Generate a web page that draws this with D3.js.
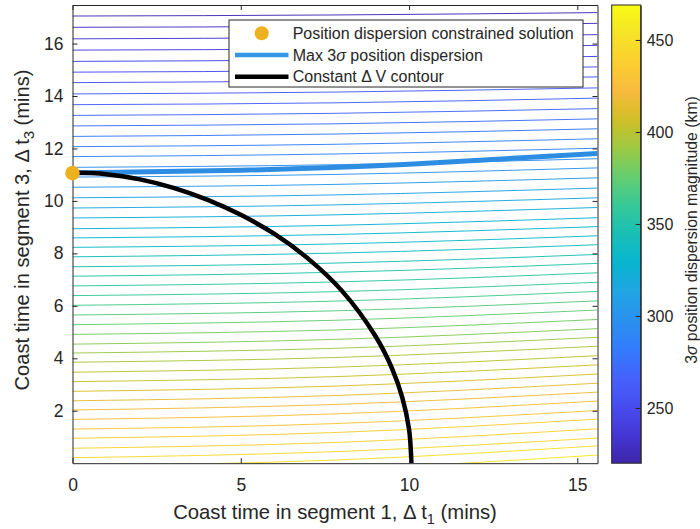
<!DOCTYPE html>
<html>
<head>
<meta charset="utf-8">
<script src="https://cdn.jsdelivr.net/npm/d3@7"></script>
<style>
  body { margin: 0; background: #fff; }
  text { font-family: "Liberation Sans", Arial, Helvetica, sans-serif; fill: #262626; }
</style>
</head>
<body>
<div id="chart"></div>
<script>
// contour levels of the 3-sigma dispersion (km)
var levels = [225,230,235,240,245,250,255,260,265,270,275,280,285,290,295,300,305,310,315,320,
  325,330,335,340,345,350,355,360,365,370,375,380,385,390,395,400,405,410,415,420,
  425,430,435,440,445,450,455];
// where each contour sits (t3, mins) at t1 = 0, 7.8 and 15.6 mins
var contourT1 = [0, 7.8, 15.6];
var t3AtStart = [17.05,16.62,16.18,15.75,15.32,14.91,14.51,14.08,13.67,13.26,12.86,12.46,12.07,11.69,11.28,10.91,
  10.52,10.12,9.73,9.35,8.94,8.59,8.23,7.87,7.49,7.13,6.76,6.39,6.02,5.65,5.28,4.91,4.54,4.20,3.85,3.47,
  3.11,2.74,2.38,2.03,1.67,1.30,0.95,0.57,0.21,-0.11,-0.47];
var t3AtMid = [17.09,16.66,16.23,15.80,15.38,14.97,14.58,14.15,13.74,13.34,12.94,12.55,12.16,11.79,11.38,11.01,
  10.63,10.23,9.85,9.47,9.07,8.72,8.36,8.01,7.63,7.28,6.91,6.54,6.18,5.81,5.45,5.08,4.72,4.38,4.03,3.66,
  3.30,2.94,2.58,2.24,1.88,1.51,1.17,0.79,0.44,0.12,-0.24];
var t3AtEnd = [17.18,16.77,16.34,15.93,15.51,15.11,14.73,14.31,13.92,13.52,13.13,12.75,12.37,12.01,11.61,11.26,
  10.88,10.49,10.12,9.75,9.36,9.02,8.67,8.33,7.96,7.62,7.26,6.90,6.55,6.19,5.84,5.48,5.13,4.80,4.46,4.10,
  3.75,3.40,3.05,2.71,2.37,2.01,1.68,1.31,0.96,0.66,0.31];

// max 3 sigma position dispersion line
var maxT1 = [0, 5, 10, 15.6];
var maxT3 = [11.06, 11.17, 11.40, 11.81];

// constant delta-V contour
var dvT1 = [0, 1, 2, 3, 4, 5, 6, 7, 8, 9, 9.5, 9.8, 10, 10.07];
var dvT3 = [11.08, 11.02, 10.82, 10.50, 10.05, 9.47, 8.74, 7.80, 6.58, 4.85, 3.60, 2.50, 1.30, 0];

// constrained solution
var solT1 = [0];
var solT3 = [11.06];

var xTicks = [0, 5, 10, 15];
var yTicks = [2, 4, 6, 8, 10, 12, 14, 16];
var cTicks = [250, 300, 350, 400, 450];
var cRange = [220, 469];

// parula colormap
var parula = ["#3e26a8","#4537d5","#484df0","#4563fd","#327cfc","#2b91ef","#20a5e3","#08b5d0",
  "#19bfb6","#37c897","#64cd6f","#9dc943","#d1bf27","#f8ba3d","#fccf30","#f5e327","#f9fb15"];

var W = 700, H = 529;
var plot = {left: 72.5, right: 597.5, top: 5, bottom: 463.2};
var cbar = {left: 611.7, right: 640.7};

var x = d3.scaleLinear().domain([0, 15.6]).range([plot.left, plot.right]);
var y = d3.scaleLinear().domain([0, 17.47]).range([plot.bottom, plot.top]);
var cy = d3.scaleLinear().domain(cRange).range([plot.bottom, plot.top]);
var color = d3.scaleLinear()
  .domain(parula.map(function(d, i) { return cRange[0] + i * (cRange[1] - cRange[0]) / (parula.length - 1); }))
  .range(parula);

var svg = d3.select("#chart").append("svg")
  .attr("width", W)
  .attr("height", H);

var defs = svg.append("defs");
defs.append("clipPath").attr("id", "clip")
  .append("rect")
  .attr("x", plot.left).attr("y", plot.top)
  .attr("width", plot.right - plot.left).attr("height", plot.bottom - plot.top);

var grad = defs.append("linearGradient").attr("id", "parula")
  .attr("x1", 0).attr("y1", 1).attr("x2", 0).attr("y2", 0);
grad.selectAll("stop").data(parula).enter().append("stop")
  .attr("offset", function(d, i) { return i / (parula.length - 1); })
  .attr("stop-color", function(d) { return d; });

var line = d3.line()
  .x(function(d) { return x(d[0]); })
  .y(function(d) { return y(d[1]); });

var plotArea = svg.append("g").attr("clip-path", "url(#clip)");

// thin contour lines
var contours = levels.map(function(lv, i) {
  return {level: lv, pts: [[contourT1[0], t3AtStart[i]], [contourT1[1], t3AtMid[i]], [contourT1[2], t3AtEnd[i]]]};
});
plotArea.selectAll("path.contour")
  .data(contours)
  .enter().append("path")
    .attr("class", "contour")
    .attr("fill", "none")
    .attr("stroke", function(d) { return color(d.level); })
    .attr("stroke-width", 0.95)
    .attr("d", function(d) { return line.curve(d3.curveNatural)(d.pts); });

// max dispersion line
plotArea.append("path")
  .datum(d3.zip(maxT1, maxT3))
  .attr("fill", "none")
  .attr("stroke", "#2c8de3")
  .attr("stroke-width", 5)
  .attr("d", line.curve(d3.curveNatural));

// constant dV contour
plotArea.append("path")
  .datum(d3.zip(dvT1, dvT3))
  .attr("fill", "none")
  .attr("stroke", "#000")
  .attr("stroke-width", 4.5)
  .attr("d", line.curve(d3.curveCatmullRom));

// axes box with inward ticks
function styleAxis(g, size) {
  g.attr("font-family", "Liberation Sans, Arial, sans-serif")
   .attr("font-size", size)
   .attr("color", "#262626");
  g.selectAll("path.domain").attr("stroke-width", 1);
  g.selectAll(".tick line").attr("stroke-width", 1);
}

svg.append("g")
  .attr("transform", "translate(0," + plot.bottom + ")")
  .call(d3.axisBottom(x).tickValues(xTicks).tickSize(-5).tickSizeOuter(0).tickPadding(15))
  .call(styleAxis, 17.5);
svg.append("g")
  .attr("transform", "translate(0," + plot.top + ")")
  .call(d3.axisTop(x).tickValues(xTicks).tickSize(-5).tickSizeOuter(0).tickFormat(""))
  .call(styleAxis, 17.5);
svg.append("g")
  .attr("transform", "translate(" + plot.left + ",0)")
  .call(d3.axisLeft(y).tickValues(yTicks).tickSize(-5).tickSizeOuter(0).tickPadding(9))
  .call(styleAxis, 17.5);
svg.append("g")
  .attr("transform", "translate(" + plot.right + ",0)")
  .call(d3.axisRight(y).tickValues(yTicks).tickSize(-5).tickSizeOuter(0).tickFormat(""))
  .call(styleAxis, 17.5);

// solution point
svg.selectAll("circle.sol")
  .data(d3.zip(solT1, solT3))
  .enter().append("circle")
    .attr("class", "sol")
    .attr("cx", function(d) { return x(d[0]); })
    .attr("cy", function(d) { return y(d[1]); })
    .attr("r", 7.3)
    .attr("fill", "#edb120");

// axis labels
var xl = svg.append("text")
  .attr("x", (plot.left + plot.right) / 2)
  .attr("y", 519)
  .attr("text-anchor", "middle")
  .attr("font-size", 20.3);
xl.append("tspan").text("Coast time in segment 1, \u0394 t");
xl.append("tspan").attr("font-size", 14.5).attr("dy", 5).text("1");
xl.append("tspan").attr("dy", -5).text(" (mins)");

var yl = svg.append("text")
  .attr("transform", "translate(28.5," + 230 + ") rotate(-90)")
  .attr("text-anchor", "middle")
  .attr("font-size", 20.1);
yl.append("tspan").text("Coast time in segment 3, \u0394 t");
yl.append("tspan").attr("font-size", 14.5).attr("dy", 5).text("3");
yl.append("tspan").attr("dy", -5).text(" (mins)");

// colorbar
svg.append("rect")
  .attr("x", cbar.left).attr("y", plot.top)
  .attr("width", cbar.right - cbar.left).attr("height", plot.bottom - plot.top)
  .attr("fill", "url(#parula)");
svg.append("g")
  .attr("transform", "translate(" + cbar.right + ",0)")
  .call(d3.axisRight(cy).tickValues(cTicks).tickSize(-5).tickSizeOuter(0).tickPadding(6))
  .call(styleAxis, 16);
svg.append("rect")
  .attr("x", cbar.left).attr("y", plot.top)
  .attr("width", cbar.right - cbar.left).attr("height", plot.bottom - plot.top)
  .attr("fill", "none").attr("stroke", "#262626").attr("stroke-width", 1);

var cl = svg.append("text")
  .attr("transform", "translate(697,230) rotate(-90)")
  .attr("text-anchor", "middle")
  .attr("font-size", 15.8);
cl.append("tspan").text("3");
cl.append("tspan").attr("font-style", "italic").text("\u03c3");
cl.append("tspan").text(" position dispersion magnitude (km)");

// legend
var legendItems = [
  {pre: "Position dispersion constrained solution", greek: "", post: "", kind: "dot", color: "#edb120"},
  {pre: "Max 3", greek: "\u03c3", post: " position dispersion", kind: "line", color: "#3495e6"},
  {pre: "Constant \u0394 V contour", greek: "", post: "", kind: "line", color: "#000"}
];
var legend = svg.append("g");
legend.append("rect")
  .attr("x", 229).attr("y", 20).attr("width", 354).attr("height", 67)
  .attr("fill", "#fff").attr("stroke", "#262626").attr("stroke-width", 1);
var rows = legend.selectAll("g.row").data(legendItems).enter().append("g")
  .attr("class", "row")
  .attr("transform", function(d, i) { return "translate(0," + (33.3 + i * 21.7) + ")"; });
rows.filter(function(d) { return d.kind === "dot"; }).append("circle")
  .attr("cx", 261.7).attr("cy", 0).attr("r", 7)
  .attr("fill", function(d) { return d.color; });
rows.filter(function(d) { return d.kind === "line"; }).append("line")
  .attr("x1", 235).attr("x2", 288.5).attr("y1", 0).attr("y2", 0)
  .attr("stroke", function(d) { return d.color; })
  .attr("stroke-width", 4.5);
var lt = rows.append("text")
  .attr("x", 292.7).attr("y", 5.6)
  .attr("font-size", 16);
lt.append("tspan").text(function(d) { return d.pre; });
lt.append("tspan").attr("font-style", "italic").text(function(d) { return d.greek; });
lt.append("tspan").text(function(d) { return d.post; });
</script>
</body>
</html>
